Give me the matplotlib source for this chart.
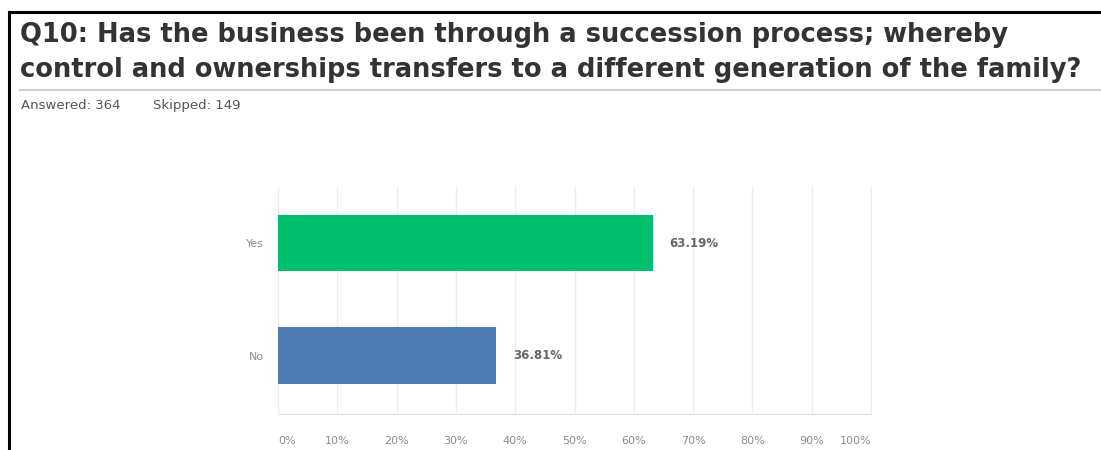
import matplotlib.pyplot as plt
from matplotlib.lines import Line2D

categories = ["Yes", "No"]
values = [63.19, 36.81]
bar_colors = ["#00bf6f", "#507cb6"]
x_ticks = [0, 10, 20, 30, 40, 50, 60, 70, 80, 90, 100]
x_tick_labels = [f"{t}%" for t in x_ticks]

title_lines = ["Q10: Has the business been through a succession process; whereby",
               "control and ownerships transfers to a different generation of the family?"]
answered = "Answered: 364"
skipped = "Skipped: 149"

W, H = 1101, 450
fig = plt.figure(figsize=(W / 100, H / 100), dpi=100)
fig.patch.set_facecolor("white")

# frame lines (top and left) like the screenshot border
fig.add_artist(Line2D([9 / W, 1], [1 - 12 / H, 1 - 12 / H], color="black", lw=2.2))
fig.add_artist(Line2D([9 / W, 9 / W], [0, 1 - 12 / H], color="black", lw=2.2))

# title, two lines with fixed baselines
for line, base in zip(title_lines, [42, 77]):
    fig.text(20 / W, 1 - base / H, line, ha="left", va="baseline", fontsize=18.5,
             fontweight="bold", color="#333333", family="DejaVu Sans")
fig.add_artist(Line2D([20 / W, 1], [1 - 90 / H, 1 - 90 / H], color="#d0d0d0", lw=1.6))
fig.text(21 / W, 1 - 109 / H, answered, ha="left", va="baseline", fontsize=9.5,
         color="#555555", family="DejaVu Sans")
fig.text(153 / W, 1 - 109 / H, skipped, ha="left", va="baseline", fontsize=9.5,
         color="#555555", family="DejaVu Sans")

# axes area: 0% at x=278, 100% at x=871, top y=187, bottom y=414
ax = fig.add_axes([278 / W, 1 - 414 / H, (871 - 278) / W, (414 - 187) / H])
ypos = [1, 0]
ax.barh(ypos, values, height=0.5, color=bar_colors)
ax.set_xlim(0, 100)
ax.set_ylim(-0.52, 1.5)
ax.set_xticks(x_ticks)
ax.set_xticklabels(x_tick_labels)
ax.set_yticks(ypos)
ax.set_yticklabels(categories)
ax.tick_params(axis="both", length=0, labelsize=8, labelcolor="#8c8c8c")
ax.tick_params(axis="x", pad=16)
ax.tick_params(axis="y", pad=10)
# end labels kept inside the plot width
xlabels = ax.get_xticklabels()
xlabels[0].set_ha("left")
xlabels[-1].set_ha("right")
ax.grid(axis="x", color="#ededed", lw=1)
ax.set_axisbelow(True)
for s in ["top", "left"]:
    ax.spines[s].set_visible(False)
ax.spines["right"].set_color("#ededed")
ax.spines["bottom"].set_color("#e3e3e3")

for y, v in zip(ypos, values):
    ax.text(v + 2.8, y, f"{v:.2f}%", va="center", ha="left", fontsize=8.5,
            fontweight="bold", color="#666666")

fig.savefig("out.png", dpi=100)
